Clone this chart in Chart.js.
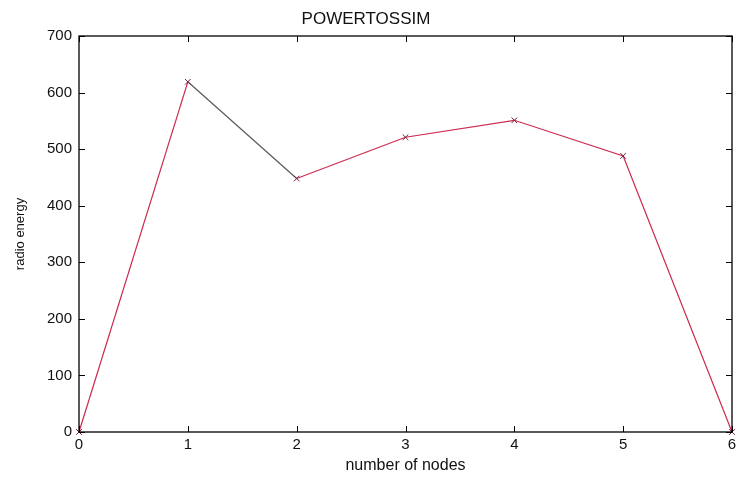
<!DOCTYPE html>
<html>
<head>
<meta charset="utf-8">
<script src="https://cdn.jsdelivr.net/npm/chart.js@4"></script>
<style>
  html, body { margin: 0; padding: 0; background: #fff; }
  #wrap { width: 737px; height: 481px; }
</style>
</head>
<body>
<div id="wrap"><canvas id="powerChart" width="737" height="481"></canvas></div>
<script>
// ============================
//  DADOS
// ============================
const nodes = [0, 1, 2, 3, 4, 5, 6];
const radioEnergy = [0, 619, 448, 521, 551, 488, 0];
const xTicks = [0, 1, 2, 3, 4, 5, 6];
const yTicks = [0, 100, 200, 300, 400, 500, 600, 700];

const points = nodes.map((n, i) => ({ x: n, y: radioEnergy[i] }));

// ============================
//  CAIXA + TICKS PARA DENTRO (estilo matlab)
// ============================
const boxTicks = {
    id: 'boxTicks',
    afterDraw(chart) {
        const { ctx, chartArea: a, scales } = chart;
        ctx.save();
        ctx.strokeStyle = '#000';
        ctx.lineWidth = 1.3;
        ctx.strokeRect(a.left, a.top, a.right - a.left, a.bottom - a.top);
        ctx.beginPath();
        xTicks.forEach(v => {
            const px = Math.round(scales.x.getPixelForValue(v)) + 0.5;
            ctx.moveTo(px, a.bottom); ctx.lineTo(px, a.bottom - 6);
            ctx.moveTo(px, a.top); ctx.lineTo(px, a.top + 6);
        });
        yTicks.forEach(v => {
            const py = Math.round(scales.y.getPixelForValue(v)) + 0.5;
            ctx.moveTo(a.left, py); ctx.lineTo(a.left + 6, py);
            ctx.moveTo(a.right, py); ctx.lineTo(a.right - 6, py);
        });
        ctx.lineWidth = 1;
        ctx.stroke();
        ctx.restore();
    }
};

const family = "'Liberation Sans', Arial, sans-serif";
const tickFont = { family, size: 15 };

const chart = new Chart(document.getElementById('powerChart'), {
    type: 'line',
    data: {
        datasets: [{
            data: points,
            borderColor: '#cc2a4e',
            borderWidth: 1.2,
            segment: {
                // trecho 1-2 aparece escuro no original
                borderColor: c => c.p0DataIndex === 1 ? '#5a5a5a' : undefined
            },
            pointStyle: 'crossRot',
            pointRadius: 4,
            pointBorderColor: '#7a2040',
            pointBorderWidth: 1,
            tension: 0,
            clip: false
        }]
    },
    options: {
        responsive: false,
        animation: false,
        layout: { padding: { left: 0, right: 5, top: 0, bottom: 0 } },
        plugins: {
            legend: { display: false },
            tooltip: { enabled: false },
            title: {
                display: true,
                text: 'POWERTOSSIM',
                color: '#111',
                font: { family, size: 17, weight: 'normal' },
                padding: { top: 9, bottom: 6.6 }
            }
        },
        scales: {
            x: {
                type: 'linear',
                min: 0, max: 6,
                afterBuildTicks: s => { s.ticks = xTicks.map(v => ({ value: v })); },
                afterFit: s => { s.height = 49; s.paddingLeft = 0; s.paddingRight = 0; },
                grid: { display: false, drawTicks: false },
                border: { display: false },
                ticks: { color: '#111', font: tickFont, padding: 4 },
                title: {
                    display: true, text: 'number of nodes', color: '#111',
                    font: { family, size: 16 }, padding: { top: 0, bottom: 6 }
                }
            },
            y: {
                min: 0, max: 700,
                afterBuildTicks: s => { s.ticks = yTicks.map(v => ({ value: v })); },
                afterFit: s => { s.width = 79; },
                grid: { display: false, drawTicks: false },
                border: { display: false },
                ticks: { color: '#111', font: tickFont, padding: 7 },
                title: {
                    display: true, text: 'radio energy', color: '#111',
                    font: { family, size: 13 }, padding: { top: 13, bottom: 0 }
                }
            }
        }
    },
    plugins: [boxTicks]
});
</script>
</body>
</html>
